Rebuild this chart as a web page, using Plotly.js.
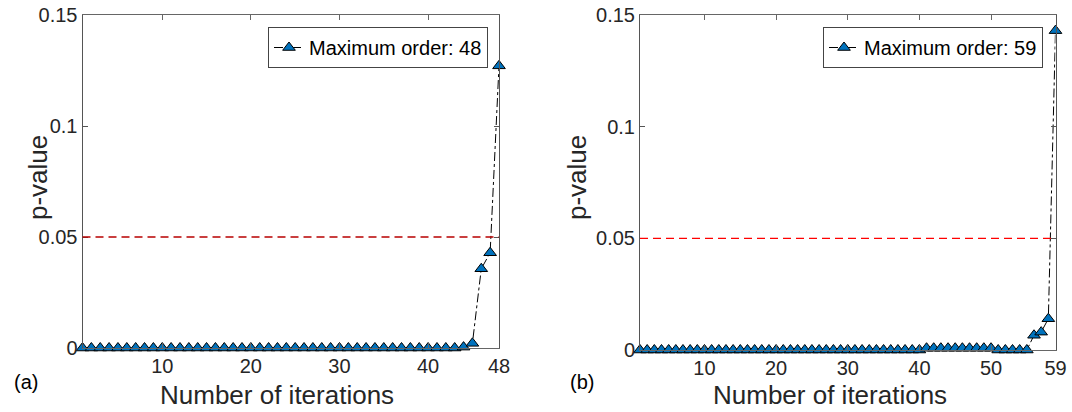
<!DOCTYPE html>
<html>
<head>
<meta charset="utf-8">
<script src="https://cdn.plot.ly/plotly-3.0.1.min.js"></script>
<style>html,body{margin:0;padding:0;background:#fff;}#chart{width:1072px;height:412px;}</style>
</head>
<body>
<div id="chart"></div>
<script>
// ---- data ----
const iterA = Array.from({length: 48}, (_, i) => i + 1);
const pA = [
  0,0,0,0,0,0,0,0,0,0,
  0,0,0,0,0,0,0,0,0,0,
  0,0,0,0,0,0,0,0,0,0,
  0,0,0,0,0,0,0,0,0,0,
  0,0,0,0.0004,0.0021,0.0357,0.0429,0.1271
];
const iterB = Array.from({length: 59}, (_, i) => i + 1);
const pB = [
  0,0,0,0,0,0,0,0,0,0,
  0,0,0,0,0,0,0,0,0,0,
  0,0,0,0,0,0,0,0,0,0,
  0,0,0,0,0,0,0,0,0,0,
  0.0008,0.0008,0.0008,0.0008,0.0008,0.0008,0.0008,0.0008,0.0008,0.0008,
  0,0,0,0,0,0.0066,0.0080,0.0140,0.1430
];
const threshold = 0.05;
const legendA = 'Maximum order: 48';
const legendB = 'Maximum order: 59';
const yTickVals = [0, 0.05, 0.1, 0.15];
const yTickText = ['0', '0.05', '0.1', '0.15'];
const xTicksA = [10, 20, 30, 40, 48];
const xTicksB = [10, 20, 30, 40, 50, 59];
const xTitle = 'Number of iterations';
const yTitle = 'p-value';
const panelLabels = ['(a)', '(b)'];

// ---- style ----
const FONT = '"Liberation Sans", Arial, Helvetica, sans-serif';
const blue = '#0072BD';
const W = 1072, H = 412;
const px = v => v / W;
const py = v => (H - v) / H;

function series(x, y, name, xa, ya, leg) {
  return {
    x: x, y: y, name: name, xaxis: xa, yaxis: ya, legend: leg,
    type: 'scatter', mode: 'lines+markers', cliponaxis: false,
    line: {color: '#000', width: 1, dash: 'dashdot'},
    marker: {symbol: 'triangle-up', size: 11, color: blue, line: {color: '#000', width: 1}}
  };
}

const traces = [
  series(iterA, pA, legendA, 'x', 'y', 'legend'),
  series(iterB, pB, legendB, 'x2', 'y2', 'legend2')
];

function xaxisCfg(domain, ticks, n) {
  return {
    domain: domain, range: [1, n], tickmode: 'array', tickvals: ticks, ticktext: ticks.map(String),
    showline: true, linecolor: '#666', linewidth: 1, mirror: 'ticks',
    ticks: 'inside', ticklen: 5, tickcolor: '#666', showgrid: false, zeroline: false,
    tickfont: {family: FONT, size: 20, color: '#262626'}, fixedrange: true
  };
}
function yaxisCfg(domain, anchor) {
  return {
    domain: domain, range: [0, 0.15], anchor: anchor, tickmode: 'array', tickvals: yTickVals, ticktext: yTickText,
    showline: true, linecolor: '#555', linewidth: 1, mirror: 'ticks',
    ticks: 'inside', ticklen: 5, tickcolor: '#555', showgrid: false, zeroline: false,
    tickfont: {family: FONT, size: 20, color: '#262626'}, fixedrange: true
  };
}

const legendCommon = {
  xanchor: 'right', yanchor: 'top', bgcolor: '#fff', bordercolor: '#444', borderwidth: 1,
  font: {family: FONT, size: 20, color: '#000'}, tracegroupgap: 0, itemclick: false
};

const layout = {
  width: W, height: H, margin: {l: 0, r: 0, t: 0, b: 0},
  paper_bgcolor: '#fff', plot_bgcolor: '#fff', font: {family: FONT},
  showlegend: true,
  xaxis: xaxisCfg([px(82.5), px(499)], xTicksA, iterA.length),
  yaxis: yaxisCfg([py(348), py(15)], 'x'),
  xaxis2: Object.assign(xaxisCfg([px(640), px(1055.5)], xTicksB, iterB.length), {anchor: 'y2'}),
  yaxis2: yaxisCfg([py(350), py(15)], 'x2'),
  legend: Object.assign({x: px(488), y: py(27)}, legendCommon),
  legend2: Object.assign({x: px(1043), y: py(27)}, legendCommon),
  shapes: [
    {type: 'line', xref: 'x domain', yref: 'y', x0: 0, x1: 1, y0: threshold, y1: threshold,
     line: {color: '#b80000', width: 1.3, dash: '8px,5px'}},
    {type: 'line', xref: 'x2 domain', yref: 'y2', x0: 0, x1: 1, y0: threshold, y1: threshold,
     line: {color: '#ff0000', width: 1.3, dash: '8px,5px'}}
  ],
  annotations: [
    {text: xTitle, xref: 'paper', yref: 'paper', x: px(277), y: py(395), showarrow: false,
     xanchor: 'center', yanchor: 'middle', font: {family: FONT, size: 26, color: '#262626'}},
    {text: xTitle, xref: 'paper', yref: 'paper', x: px(830), y: py(395), showarrow: false,
     xanchor: 'center', yanchor: 'middle', font: {family: FONT, size: 26, color: '#262626'}},
    {text: yTitle, xref: 'paper', yref: 'paper', x: px(38), y: py(178), showarrow: false, textangle: -90,
     xanchor: 'center', yanchor: 'middle', font: {family: FONT, size: 26, color: '#262626'}},
    {text: yTitle, xref: 'paper', yref: 'paper', x: px(577), y: py(178), showarrow: false, textangle: -90,
     xanchor: 'center', yanchor: 'middle', font: {family: FONT, size: 26, color: '#262626'}},
    {text: panelLabels[0], xref: 'paper', yref: 'paper', x: px(26), y: py(382), showarrow: false,
     xanchor: 'center', yanchor: 'middle', font: {family: FONT, size: 20, color: '#000'}},
    {text: panelLabels[1], xref: 'paper', yref: 'paper', x: px(582), y: py(382), showarrow: false,
     xanchor: 'center', yanchor: 'middle', font: {family: FONT, size: 20, color: '#000'}}
  ]
};

Plotly.newPlot('chart', traces, layout, {displayModeBar: false, staticPlot: true});
</script>
</body>
</html>
